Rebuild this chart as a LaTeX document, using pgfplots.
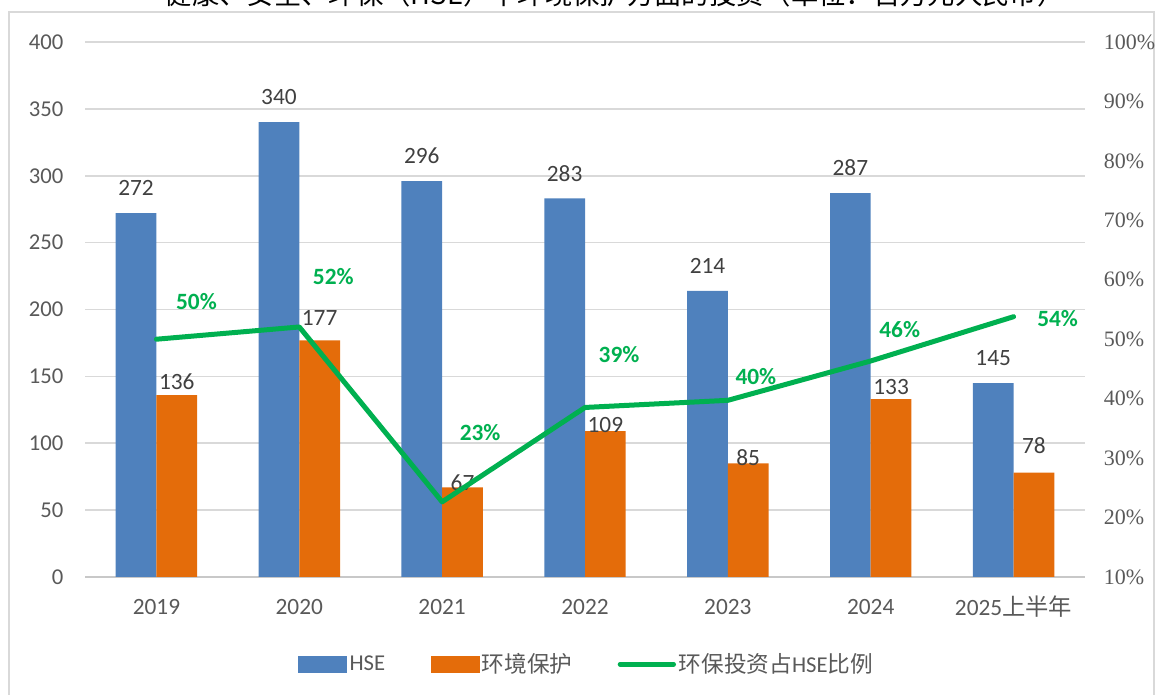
\documentclass[border=0pt]{standalone}
\usepackage{fontspec}
\setmainfont{Carlito}
\newfontfamily\cjk{Noto Sans CJK SC}
\newfontfamily\rtfont{Liberation Serif}
\usepackage{pgfplots}
\pgfplotsset{compat=1.18}
\usepackage{pgfplotstable}

\definecolor{hseblue}{RGB}{79,129,189}
\definecolor{envorange}{RGB}{228,108,10}
\definecolor{ratiogreen}{RGB}{0,176,80}
\definecolor{gridgray}{RGB}{217,217,217}
\definecolor{axisgray}{RGB}{200,200,200}
\definecolor{tickgray}{RGB}{89,89,89}
\definecolor{labelgray}{RGB}{64,64,64}

\pgfplotstableread{
x hse
0 272
1 340
2 296
3 283
4 214
5 287
6 145
}\hsetable

\pgfplotstableread{
x env off
0 136 9.75
1 177 16.5
2 67 3.75
3 109 4.5
4 85 4.5
5 133 9
6 78 20.25
}\envtable

\pgfplotstableread{
x r dx dy
0 50.00 30 27.9
1 52.06 25.5 37.5
2 22.64 28.5 51.75
3 38.52 25.5 39.4
4 39.72 21 18
5 46.34 21.75 23.25
6 53.79 33 -1.5
}\ratiotable

\begin{document}
\begin{tikzpicture}
\useasboundingbox (0pt,0pt) rectangle (867pt,521.25pt);
\begin{scope}
\clip (0pt,0pt) rectangle (867pt,521.25pt);
\draw[gridgray, line width=1.2pt] (6.75pt,-15pt) rectangle (865.5pt,512.25pt);
\node[anchor=base, inner sep=0pt, font=\cjk\fontsize{20.5}{24}\selectfont] at (461pt,517.5pt) {健康、安全、环保（HSE）中环境保护方面的投资（单位：百万元人民币）};
\end{scope}

\begin{axis}[
  at={(63.75pt,88.5pt)}, anchor=south west, scale only axis,
  width=750pt, height=401.25pt,
  xmin=-0.5, xmax=6.5, ymin=0, ymax=400,
  xtick={0,...,6},
  xticklabels={2019,2020,2021,2022,2023,2024,2025{\cjk 上半年}},
  ytick={0,50,...,400},
  axis x line=bottom, axis y line=left,
  x axis line style={-, axisgray, line width=1.2pt},
  y axis line style={draw=none},
  major tick length=0pt,
  ymajorgrids, grid style={gridgray, line width=1.2pt},
  /pgf/number format/assume math mode=true,
  ticklabel style={font=\fontsize{17}{20}\selectfont, text=tickgray},
  yticklabel style={anchor=east, inner sep=0pt, xshift=-16pt},
  xticklabel style={anchor=center, inner sep=0pt, yshift=-22.5pt, font=\fontsize{17.5}{20}\selectfont},
  ybar, bar width=0.285,
  clip=false,
]
\addplot[fill=hseblue, draw=none, bar shift=-0.1425,
  nodes near coords,
  nodes near coords style={font=\fontsize{17.5}{20}\selectfont, text=labelgray, anchor=center, yshift=19pt}]
  table[x=x,y=hse]{\hsetable};
\addplot[fill=envorange, draw=none, bar shift=0.1425,
  visualization depends on={\thisrow{off}\as\myoff},
  nodes near coords,
  nodes near coords style={font=\fontsize{17.5}{20}\selectfont, text=labelgray, anchor=center, yshift=\myoff pt}]
  table[x=x,y=env]{\envtable};
\end{axis}

\begin{axis}[
  at={(63.75pt,88.5pt)}, anchor=south west, scale only axis,
  width=750pt, height=401.25pt,
  xmin=-0.5, xmax=6.5, ymin=10, ymax=100,
  ytick={10,20,...,100},
  axis x line=none, axis y line*=right,
  y axis line style={draw=none},
  major tick length=0pt,
  /pgf/number format/assume math mode=true,
  yticklabel={\pgfmathprintnumber{\tick}\%},
  yticklabel style={font=\rtfont\fontsize{16.5}{20}\selectfont, text=tickgray, anchor=west, inner sep=0pt, xshift=14pt},
  clip=false,
  legend columns=3,
  legend style={at={(0.502,-0.163)}, anchor=center, draw=none, fill=none,
    font=\fontsize{17}{20}\selectfont, text=tickgray,
    /tikz/every even column/.append style={column sep=32pt}},
]
\addlegendimage{legend image code/.code={\fill[hseblue] (0pt,-6pt) rectangle (36pt,6pt);}}
\addlegendentry{HSE}
\addlegendimage{legend image code/.code={\fill[envorange] (0pt,-6pt) rectangle (36pt,6pt);}}
\addlegendentry{{\cjk 环境保护}}
\addplot[ratiogreen, line width=3.75pt, line cap=round, line join=round, mark=none,
  legend image code/.code={\draw[ratiogreen,line width=3.75pt,line cap=round] (0pt,0pt)--(40pt,0pt);},
  point meta=y,
  visualization depends on={\thisrow{dx}\as\mydx},
  visualization depends on={\thisrow{dy}\as\mydy},
  nodes near coords={\pgfmathprintnumber[fixed,precision=0]{\pgfplotspointmeta}\%},
  nodes near coords style={font=\bfseries\fontsize{17.5}{20}\selectfont, text=ratiogreen, anchor=center, xshift=\mydx pt, yshift=\mydy pt}]
  table[x=x,y=r]{\ratiotable};
\addlegendentry{{\cjk 环保投资占}HSE{\cjk 比例}}
\end{axis}
\end{tikzpicture}
\end{document}
